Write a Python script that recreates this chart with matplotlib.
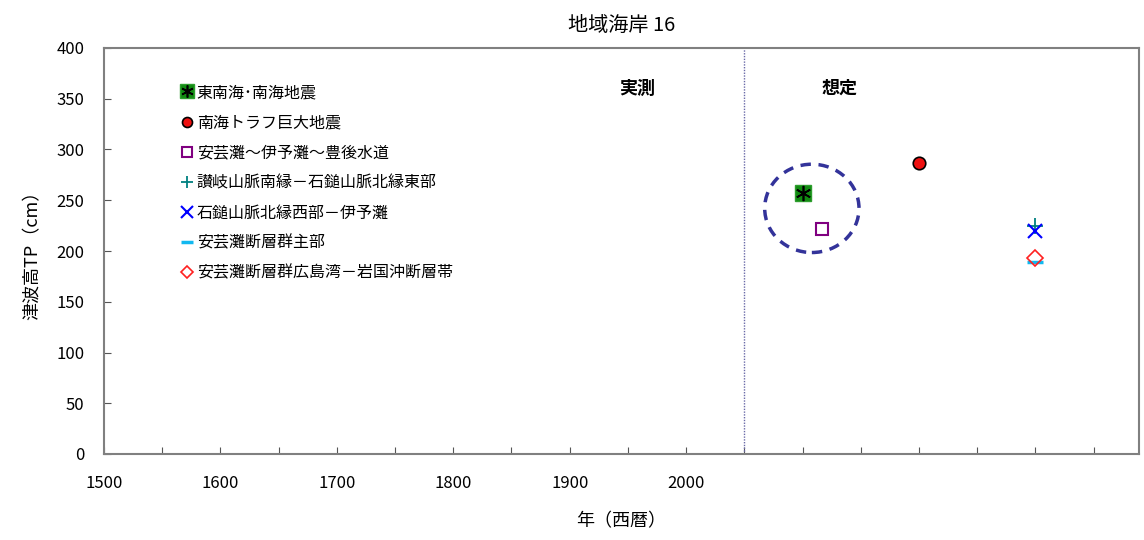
import numpy as np
import matplotlib
matplotlib.use("Agg")
import matplotlib.pyplot as plt
from matplotlib.patches import Ellipse
from matplotlib.legend_handler import HandlerTuple

plt.rcParams['font.family'] = ['Noto Sans CJK JP', 'DejaVu Sans']

# ===== データ =====
title = "地域海岸 16"
series_names = [
    "東南海･南海地震",
    "南海トラフ巨大地震",
    "安芸灘～伊予灘～豊後水道",
    "讃岐山脈南縁－石鎚山脈北縁東部",
    "石鎚山脈北縁西部－伊予灘",
    "安芸灘断層群主部",
    "安芸灘断層群広島湾－岩国沖断層帯",
]
series_year = [2100, 2200, 2117, 2300, 2300, 2300, 2300]
series_height = [257, 287, 222, 225, 220, 189, 193]

boundary_year = 2050          # 実測／想定の境
circle_center = (2108, 242)   # 破線の円
circle_size = (81, 87)

x_ticks = np.arange(1500, 2351, 50)
x_labels = [str(t) if (t % 100 == 0 and t <= 2000) else "" for t in x_ticks]
y_ticks = np.arange(0, 401, 50)

# ===== 描画 =====
fig = plt.figure(figsize=(11.44, 5.40), dpi=100)
ax = fig.add_axes([104 / 1144, 1 - 454 / 540, (1139 - 104) / 1144, (454 - 48) / 540])

ax.set_xlim(1500, 2389)
ax.set_ylim(0, 400)

handles = []
# 東南海・南海地震: 緑の四角にアスタリスク
h1a, = ax.plot(series_year[0], series_height[0], ls='none', marker='s', ms=12,
               mfc='#118a11', mec='#2e9e2e', mew=1)
h1b, = ax.plot(series_year[0], series_height[0], ls='none', marker=(6, 2, 0), ms=11,
               color='black', mew=1.2)
handles.append((h1a, h1b))
h2, = ax.plot(series_year[1], series_height[1], ls='none', marker='o', ms=9,
              mfc='#ee1111', mec='black', mew=1.2)
handles.append(h2)
h3, = ax.plot(series_year[2], series_height[2], ls='none', marker='s', ms=9,
              mfc='none', mec='#800080', mew=1.5)
handles.append(h3)
h4, = ax.plot(series_year[3], series_height[3], ls='none', marker='+', ms=11,
              color='#008080', mew=1.3)
handles.append(h4)
h5, = ax.plot(series_year[4], series_height[4], ls='none', marker='x', ms=10,
              color='#0000ff', mew=1.5)
handles.append(h5)
h6, = ax.plot(series_year[5], series_height[5], ls='none', marker='_', ms=11,
              color='#11b8f0', mew=2.5)
handles.append(h6)
h7, = ax.plot(series_year[6], series_height[6], ls='none', marker='D', ms=8,
              mfc='none', mec='#ff2020', mew=1.2)
handles.append(h7)

# 実測と想定の境界
ax.axvline(boundary_year, color='#6a6aa8', lw=1, ls=(0, (1, 1)))

# 想定値を囲む破線の円
ax.add_patch(Ellipse(circle_center, circle_size[0], circle_size[1], fill=False,
                     ec='#33339a', lw=2.5, ls=(0, (3, 2.2))))

ax.text(1958, 360, "実測", ha='center', va='center', fontsize=13, fontweight='bold')
ax.text(2132, 360, "想定", ha='center', va='center', fontsize=13, fontweight='bold')

leg = ax.legend(handles, series_names, loc='upper left', bbox_to_anchor=(0.068, 0.927),
                frameon=False, fontsize=11.5, handlelength=0.75, handletextpad=0.25,
                labelspacing=0.82, borderaxespad=0, markerscale=0.8,
                handler_map={tuple: HandlerTuple(ndivide=1)})

# 軸
ax.set_xticks(x_ticks)
ax.set_xticklabels(x_labels, fontsize=12)
ax.set_yticks(y_ticks)
ax.set_yticklabels([str(t) for t in y_ticks], fontsize=12)
ax.tick_params(axis='x', direction='in', length=5, pad=15, color='#555555')
ax.tick_params(axis='y', direction='in', length=5, pad=14, color='#555555')
for s in ax.spines.values():
    s.set_color('#808080')
    s.set_linewidth(1.5)

ax.set_xlabel("年（西暦）", fontsize=13, labelpad=15)
ax.set_ylabel("津波高TP（cm）", fontsize=13, labelpad=11)
ax.set_title(title, fontsize=14.5, pad=12)

fig.savefig("out.png", dpi=100)
